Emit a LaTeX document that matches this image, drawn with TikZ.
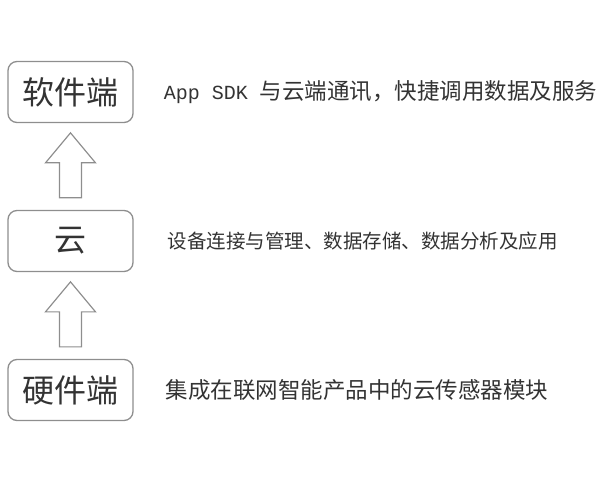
\documentclass[tikz,border=0pt]{standalone}
\usepackage{fontspec}
\newfontfamily\cjk{Noto Sans CJK SC}
\newfontfamily\latinmono{Liberation Mono}
\usetikzlibrary{positioning,calc}
\definecolor{framegray}{HTML}{8E8E8E}
\definecolor{inkgray}{HTML}{333333}
\tikzset{
  layer/.style = {draw=framegray, line width=1.3pt, rounded corners=9pt,
    minimum width=125pt, minimum height=61pt, inner sep=0pt,
    text=inkgray, font=\cjk\fontsize{32}{32}\selectfont},% boxes on the left
  desc/.style = {anchor=west, inner sep=2pt, text=inkgray},% texts on the right
  uparrow/.style = {draw=framegray, line width=1.2pt, line join=miter},
}
\begin{document}
\begin{tikzpicture}[x=1pt,y=1pt]
\useasboundingbox (0,0) rectangle (600,480);
\node [layer] (soft) at (70.5,388) {软件端};
\node [layer] (cloud) at (70.5,239) {云};
\node [layer] (hard) at (70.5,90) {硬件端};
\node [desc, right=28pt of soft, font=\cjk\fontsize{22.5}{24}\selectfont] (softtxt)
  {{\latinmono\fontsize{20}{20}\selectfont App SDK }与云端通讯，快捷调用数据及服务};
\node [desc, right=32pt of cloud, font=\cjk\fontsize{19.5}{22}\selectfont] (cloudtxt)
  {设备连接与管理、数据存储、数据分析及应用};
\node [desc, right=30pt of hard, font=\cjk\fontsize{22.5}{24}\selectfont] (hardtxt)
  {集成在联网智能产品中的云传感器模块};
% hollow arrows between the layers
\foreach \lo/\hi in {hard/cloud, cloud/soft}
  \draw [uparrow] ($(\lo.north)+(-11,12)$) -- ++(0,35) -- ++(-14,0)
    -- ++(25,30) -- ++(25,-30) -- ++(-14,0) -- ++(0,-35) -- cycle;
\end{tikzpicture}
\end{document}
